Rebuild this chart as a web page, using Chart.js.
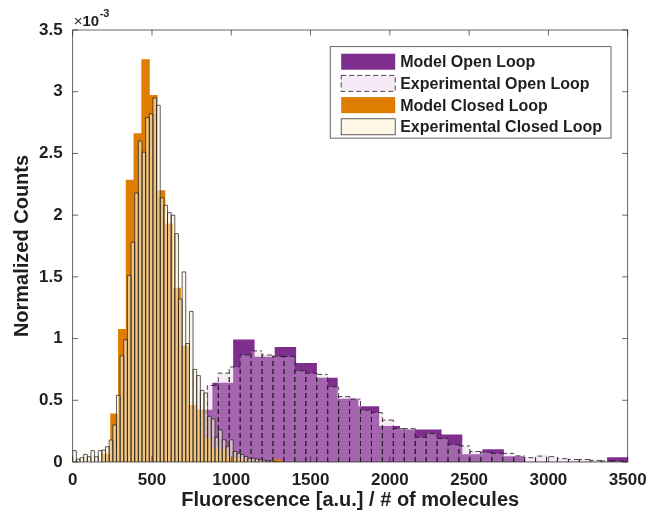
<!DOCTYPE html>
<html>
<head>
<meta charset="utf-8">
<title>Fluorescence histograms</title>
<script src="https://cdn.jsdelivr.net/npm/chart.js@4.4.1/dist/chart.umd.min.js"></script>
<style>
  html, body { margin: 0; padding: 0; background: #fff; }
  #wrap { width: 660px; height: 517px; }
</style>
</head>
<body>
<div id="wrap"><canvas id="histChart" width="660" height="517"></canvas></div>
<script>
// Normalized counts are kept in units of 1e-3 (the axis shows the x10^-3 factor).
// Every series is a histogram: first bin edge, bin width, one height per bin.
const seriesNames = ['Model Open Loop', 'Experimental Open Loop', 'Model Closed Loop', 'Experimental Closed Loop'];

const modelOpenStart = 752;
const modelOpenWidth = 131;
const modelOpen = [0.42, 0.64, 0.99, 0.85, 0.93, 0.80, 0.68, 0.51, 0.45, 0.29,
    0.26, 0.26, 0.22, 0.06, 0.10, 0.043, 0, 0, 0, 0, 0.035];

const expOpenStart = 780;
const expOpenWidth = 69;
const expOpen = [0.40, 0.62, 0.72, 0.77, 0.867, 0.90, 0.867, 0.855, 0.855, 0.74,
    0.72, 0.71, 0.61, 0.53, 0.51, 0.42, 0.40, 0.34, 0.27, 0.27,
    0.20, 0.23, 0.19, 0.14, 0.13, 0.085, 0.08, 0.07, 0.07, 0.05,
    0.035, 0.048, 0.043, 0.027, 0.02, 0.02, 0.013, 0.009, 0.009];

const modelClosedStart = 190;
const modelClosedWidth = 49;
const modelClosed = [0.065, 0.39, 1.075, 2.285, 2.66, 3.26, 2.97, 2.20, 1.93, 1.41,
    0.94, 0.46, 0.42, 0.19, 0.11, 0.10, 0.04, 0.03, 0.01, 0.005,
    0, 0, 0.02];

const expClosedStart = 0;
const expClosedWidth = 23;
const expClosed = [0.092, 0.024, 0.035, 0.062, 0.043, 0.092, 0.043, 0.092, 0.097, 0.124,
    0.178, 0.30, 0.54, 0.86, 0.99, 1.51, 1.78, 2.18, 2.60, 2.51,
    2.79, 2.82, 2.95, 2.89, 2.14, 2.08, 2.02, 2.00, 1.85, 1.32,
    1.54, 0.96, 1.22, 0.75, 0.70, 0.58, 0.56, 0.37, 0.35, 0.20,
    0.26, 0.18, 0.125, 0.18, 0.085, 0.07, 0.06, 0.045, 0.03, 0.03,
    0.025, 0.02, 0.015, 0.01, 0.01, 0.005];

const xRange = [0, 3500];
const xStep = 500;
const yRange = [0, 3.5];
const yStep = 0.5;
const yExponent = '-3';

const FONT = '"Liberation Sans", Arial, Helvetica, sans-serif';
const TEXT_COLOR = '#1f1f1f';
const AXIS_COLOR = '#262626';

// bin heights -> points at the bin centres
function binsToPoints(start, width, values) {
    return values.map((v, i) => ({ x: start + (i + 0.5) * width, y: v }));
}

// outline each bar (solid or dashed), like the histogram edges
const barEdges = {
    id: 'barEdges',
    afterDatasetDraw(chart, args) {
        const ds = chart.data.datasets[args.index];
        if (!ds.edgeColor) return;
        const { ctx, chartArea: a } = chart;
        ctx.save();
        ctx.beginPath();
        ctx.rect(a.left, a.top, a.right - a.left, a.bottom - a.top);
        ctx.clip();
        ctx.strokeStyle = ds.edgeColor;
        ctx.lineWidth = ds.edgeWidth;
        ctx.setLineDash(ds.edgeDash || []);
        ctx.beginPath();
        args.meta.data.forEach(bar => {
            const { x, y, base, width } = bar.getProps(['x', 'y', 'base', 'width'], true);
            if (Math.abs(base - y) < 0.05) return;
            const l = x - width / 2, r = x + width / 2;
            ctx.moveTo(l, base);
            ctx.lineTo(l, y);
            ctx.lineTo(r, y);
            ctx.moveTo(r, base);
            ctx.lineTo(r, y);
        });
        ctx.stroke();
        ctx.restore();
    }
};

// box around the plot with ticks pointing inwards on all four sides
const boxAxes = {
    id: 'boxAxes',
    afterDatasetsDraw(chart) {
        const { ctx, chartArea: a, scales } = chart;
        const xs = scales.x, ys = scales.y;
        const len = 5.5;
        ctx.save();
        ctx.strokeStyle = AXIS_COLOR;
        ctx.lineWidth = 0.7;
        ctx.beginPath();
        xs.ticks.forEach(t => {
            const px = xs.getPixelForValue(t.value);
            ctx.moveTo(px, a.bottom); ctx.lineTo(px, a.bottom - len);
            ctx.moveTo(px, a.top); ctx.lineTo(px, a.top + len);
        });
        ys.ticks.forEach(t => {
            const py = ys.getPixelForValue(t.value);
            ctx.moveTo(a.left, py); ctx.lineTo(a.left + len, py);
            ctx.moveTo(a.right, py); ctx.lineTo(a.right - len, py);
        });
        ctx.stroke();
        ctx.strokeRect(a.left, a.top, a.right - a.left, a.bottom - a.top);
        ctx.restore();
    }
};

// boxed legend in the upper right corner of the plot
const boxLegend = {
    id: 'boxLegend',
    afterDraw(chart) {
        const { ctx, chartArea: a } = chart;
        const items = chart.data.datasets;
        ctx.save();
        ctx.font = 'bold 16px ' + FONT;
        const textW = Math.max(...items.map(d => ctx.measureText(d.label).width));
        const padL = 11, sw = 54, swH = 16, gap = 5, padR = 9, rowH = 21.7, firstRow = 15, padB = 11.3;
        const w = padL + sw + gap + textW + padR;
        const h = firstRow + (items.length - 1) * rowH + padB;
        const right = a.right - 16.7, top = a.top + 16.7;
        const left = right - w;
        ctx.fillStyle = '#fff';
        ctx.fillRect(left, top, w, h);
        ctx.strokeStyle = AXIS_COLOR;
        ctx.lineWidth = 0.7;
        ctx.strokeRect(left, top, w, h);
        items.forEach((d, i) => {
            const cy = top + firstRow + i * rowH;
            const sx = left + padL, sy = cy - swH / 2;
            ctx.fillStyle = d.backgroundColor;
            ctx.fillRect(sx, sy, sw, swH);
            if (d.edgeColor) {
                ctx.strokeStyle = d.edgeColor;
                ctx.lineWidth = d.edgeWidth;
                ctx.setLineDash(d.edgeDash || []);
                ctx.strokeRect(sx, sy, sw, swH);
                ctx.setLineDash([]);
            }
            ctx.fillStyle = TEXT_COLOR;
            ctx.textAlign = 'left';
            ctx.textBaseline = 'middle';
            ctx.fillText(d.label, sx + sw + gap, cy + 1);
        });
        ctx.restore();
    }
};

// "x10^-3" factor above the y axis
const exponentLabel = {
    id: 'exponentLabel',
    afterDraw(chart) {
        const { ctx, chartArea: a } = chart;
        ctx.save();
        ctx.fillStyle = TEXT_COLOR;
        ctx.textAlign = 'left';
        ctx.textBaseline = 'alphabetic';
        let x = a.left + 1;
        const base = a.top - 4;
        ctx.font = '15px ' + FONT;
        ctx.fillText('\u00d7', x, base);
        x += ctx.measureText('\u00d7').width;
        ctx.font = 'bold 15px ' + FONT;
        ctx.fillText('10', x, base);
        x += ctx.measureText('10').width + 0.5;
        ctx.font = 'bold 11px ' + FONT;
        ctx.fillText(yExponent, x, base - 9);
        ctx.restore();
    }
};

const hiddenX = {
    type: 'linear', display: false, min: xRange[0], max: xRange[1],
    offset: false, grid: { offset: false }, ticks: { stepSize: xStep }
};

new Chart(document.getElementById('histChart'), {
    type: 'bar',
    data: {
        datasets: [
            {
                label: seriesNames[0],
                data: binsToPoints(modelOpenStart, modelOpenWidth, modelOpen),
                xAxisID: 'x',
                backgroundColor: '#7E2F8E',
                order: 4
            },
            {
                label: seriesNames[1],
                data: binsToPoints(expOpenStart, expOpenWidth, expOpen),
                xAxisID: 'xExpOpen',
                backgroundColor: 'rgba(232, 196, 232, 0.36)',
                inflateAmount: 0,
                edgeColor: '#1a1a1a',
                edgeWidth: 0.8,
                edgeDash: [5, 3],
                order: 3
            },
            {
                label: seriesNames[2],
                data: binsToPoints(modelClosedStart, modelClosedWidth, modelClosed),
                xAxisID: 'xModelClosed',
                backgroundColor: '#DE7D00',
                order: 2
            },
            {
                label: seriesNames[3],
                data: binsToPoints(expClosedStart, expClosedWidth, expClosed),
                xAxisID: 'xExpClosed',
                backgroundColor: 'rgba(255, 241, 212, 0.6)',
                inflateAmount: 0,
                edgeColor: '#1a1a1a',
                edgeWidth: 0.7,
                order: 1
            }
        ]
    },
    options: {
        responsive: false,
        animation: false,
        datasets: { bar: { barPercentage: 1, categoryPercentage: 1, grouped: false } },
        layout: { padding: { left: 6, top: 30, right: 32.3, bottom: 0 } },
        plugins: { legend: { display: false }, tooltip: { enabled: false } },
        scales: {
            x: {
                type: 'linear', position: 'bottom',
                min: xRange[0], max: xRange[1],
                offset: false,
                grid: { display: false, drawTicks: false, offset: false },
                border: { display: false },
                ticks: {
                    stepSize: xStep, padding: 8, maxRotation: 0, autoSkip: false,
                    color: TEXT_COLOR, font: { family: FONT, size: 17, weight: 'bold' },
                    callback: v => String(v)
                },
                title: {
                    display: true, text: 'Fluorescence [a.u.] / # of molecules',
                    color: TEXT_COLOR, padding: { top: 4, bottom: 5 },
                    font: { family: FONT, size: 20, weight: 'bold' }
                },
                afterFit(s) { s.height = 55; }
            },
            xExpOpen: hiddenX,
            xModelClosed: hiddenX,
            xExpClosed: hiddenX,
            y: {
                min: yRange[0], max: yRange[1],
                grid: { display: false, drawTicks: false },
                border: { display: false },
                ticks: {
                    stepSize: yStep, padding: 10,
                    color: TEXT_COLOR, font: { family: FONT, size: 17, weight: 'bold' },
                    callback: v => String(Math.round(v * 10) / 10)
                },
                title: {
                    display: true, text: 'Normalized Counts',
                    color: TEXT_COLOR, padding: { top: 4, bottom: 4 },
                    font: { family: FONT, size: 20, weight: 'bold' }
                },
                afterFit(s) { s.width = 66.7; }
            }
        }
    },
    plugins: [barEdges, boxAxes, boxLegend, exponentLabel]
});
</script>
</body>
</html>
